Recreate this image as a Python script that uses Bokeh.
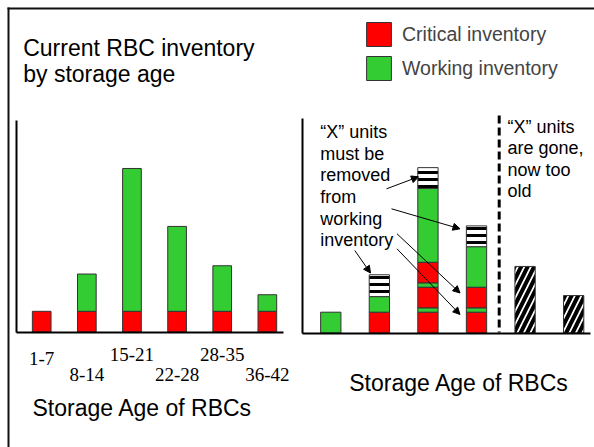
from bokeh.plotting import figure
from bokeh.models import Range1d, Arrow, NormalHead, Legend, LegendItem, ColumnDataSource
from bokeh.core.properties import value
from bokeh.embed import file_html
from bokeh.resources import INLINE

# ---------------- data ----------------
age_classes = ["1-7", "8-14", "15-21", "22-28", "28-35", "36-42"]
left_critical = [1.0, 1.0, 1.0, 1.0, 1.0, 1.0]
left_working = [0.0, 1.8, 6.9, 4.1, 2.2, 0.8]

# right chart: stacked segments (bar index, part, size), bottom to top
right_bar = [0, 1, 1, 1, 2, 2, 2, 2, 2, 2, 2, 3, 3, 3, 3, 3, 4, 5]
right_part = ["working",
              "critical", "working", "removed",
              "critical", "working", "critical", "working", "critical", "working", "removed",
              "critical", "working", "critical", "working", "removed",
              "expired", "expired"]
right_size = [1.0,
              1.0, 0.75, 1.05,
              1.0, 0.2, 1.0, 0.2, 1.0, 3.55, 1.0,
              1.0, 0.2, 1.0, 1.95, 1.0,
              3.2, 1.8]

title_lines = ["Current RBC inventory", "by storage age"]
note_left = ["\u201cX\u201d units", "must be", "removed", "from", "working", "inventory"]
note_right = ["\u201cX\u201d units", "are gone,", "now too", "old"]
axis_title = "Storage Age of RBCs"

RED = "#FF0000"
GREEN = "#33CC33"
SANS = "Liberation Sans"
SERIF = "Liberation Serif"

W, H = 594, 447
p = figure(width=W, height=H, x_range=Range1d(0, W), y_range=Range1d(H, 0),
           output_backend="svg", toolbar_location=None, min_border=0,
           outline_line_color=None, x_axis_location=None, y_axis_location=None,
           background_fill_color="white", border_fill_color="white")
p.grid.visible = False

# sub-chart scales (extra ranges mapped onto the frame)
def lin_range(lo_px, hi_px, origin_px, unit_px, flip=False):
    if flip:
        return Range1d(-(hi_px - origin_px) / unit_px, (origin_px - lo_px) / unit_px)
    return Range1d((lo_px - origin_px) / unit_px, (hi_px - origin_px) / unit_px)

p.extra_x_ranges = {"lx": lin_range(0, W, 41.2, 45.13),
                    "rx": lin_range(0, W, 330.3, 48.57)}
p.extra_y_ranges = {"ly": lin_range(0, H, 331.5, 20.7, flip=True),
                    "ry": lin_range(0, H, 332.5, 20.8, flip=True)}

# frame (top and left edges visible)
p.segment(x0=[7, 8], y0=[8, 7], x1=[W + 5, 8], y1=[8, H + 5], line_color="#111111", line_width=2)

# ---------------- left chart ----------------
idx = list(range(len(age_classes)))
red_r = p.vbar(x=idx, width=0.414, bottom=0, top=left_critical,
               fill_color=RED, line_color="#333333", line_width=1,
               x_range_name="lx", y_range_name="ly")
gi = [i for i in idx if left_working[i] > 0]
green_r = p.vbar(x=gi, width=0.414, bottom=[left_critical[i] for i in gi],
                 top=[left_critical[i] + left_working[i] for i in gi],
                 fill_color=GREEN, line_color="#333333", line_width=1,
                 x_range_name="lx", y_range_name="ly")
# axes lines of left chart
p.segment(x0=[16, 16], y0=[120, 332], x1=[16, 283], y1=[332, 332], line_color="black", line_width=2)

# staggered tick labels
label_y = [358 if i == 0 else (353.5 if i % 2 == 0 else 373.5) for i in idx]
p.text(x=idx, y=label_y, text=age_classes, x_range_name="lx",
       text_font=value(SERIF), text_font_size="19px", text_align="center",
       text_baseline="alphabetic", text_color="black")

# ---------------- right chart ----------------
bottoms, tops = [], []
acc = {}
for b, s in zip(right_bar, right_size):
    b0 = acc.get(b, 0.0)
    bottoms.append(b0)
    tops.append(b0 + s)
    acc[b] = b0 + s

def seg_source(part):
    ii = [k for k, pt in enumerate(right_part) if pt == part]
    return ColumnDataSource(dict(x=[right_bar[k] for k in ii],
                                 bottom=[bottoms[k] for k in ii],
                                 top=[tops[k] for k in ii]))

common = dict(x="x", width=0.418, bottom="bottom", top="top",
              line_color="#333333", line_width=1, x_range_name="rx", y_range_name="ry")
p.vbar(source=seg_source("critical"), fill_color=RED, **common)
p.vbar(source=seg_source("working"), fill_color=GREEN, **common)
p.vbar(source=seg_source("removed"), fill_color="white", hatch_pattern="horizontal_line",
       hatch_color="black", hatch_scale=7, hatch_weight=3, **common)
p.vbar(source=seg_source("expired"), fill_color="white", hatch_pattern="right_diagonal_line",
       hatch_color="black", hatch_scale=13, hatch_weight=4, **common)

p.segment(x0=[302, 302], y0=[118, 333], x1=[302, 590], y1=[333, 333], line_color="black", line_width=2)
# dashed divider
p.segment(x0=[498.7], y0=[115], x1=[498.7], y1=[332], line_color="black", line_width=3,
          line_dash="8 4")

# arrows
arrows = [((386, 188.3), (418, 176.3)),
          ((391, 208.3), (459.5, 228.3)),
          ((396.5, 233.3), (459.5, 292.5)),
          ((396.5, 248.3), (459.5, 314)),
          ((354.3, 250), (370, 272.5))]
for (xs, ys), (xe, ye) in arrows:
    p.add_layout(Arrow(end=NormalHead(size=7, fill_color="black", line_color="black", line_width=1),
                       x_start=xs, y_start=ys, x_end=xe, y_end=ye, line_width=1, line_color="black"))

# ---------------- texts ----------------
p.text(x=[22.7, 22.7], y=[47, 73], text=title_lines, text_font=value(SANS),
       text_font_size="23px", text_baseline="alphabetic", text_color="black")
p.text(x=[32, 348.7], y=[407.5, 382], text=[axis_title, axis_title], text_font=value(SANS),
       text_font_size="23px", text_baseline="alphabetic", text_color="black")
p.text(x=[319.7] * len(note_left), y=[131.7 + 21.6 * i for i in range(len(note_left))],
       text=note_left, text_font=value(SANS), text_font_size="18px",
       text_baseline="alphabetic", text_color="black")
p.text(x=[507] * len(note_right), y=[126 + 21.5 * i for i in range(len(note_right))],
       text=note_right, text_font=value(SANS), text_font_size="18px",
       text_baseline="alphabetic", text_color="black")

# legend
legend = Legend(items=[LegendItem(label="Critical inventory", renderers=[red_r]),
                       LegendItem(label="Working inventory", renderers=[green_r])],
                location=(363, 364), padding=0, margin=0, spacing=4,
                glyph_width=31, glyph_height=30, label_standoff=8,
                label_text_font=SANS, label_text_font_size="19.5px",
                border_line_color=None, background_fill_alpha=0)
p.add_layout(legend)

open("out.html", "w").write(file_html(p, INLINE))
